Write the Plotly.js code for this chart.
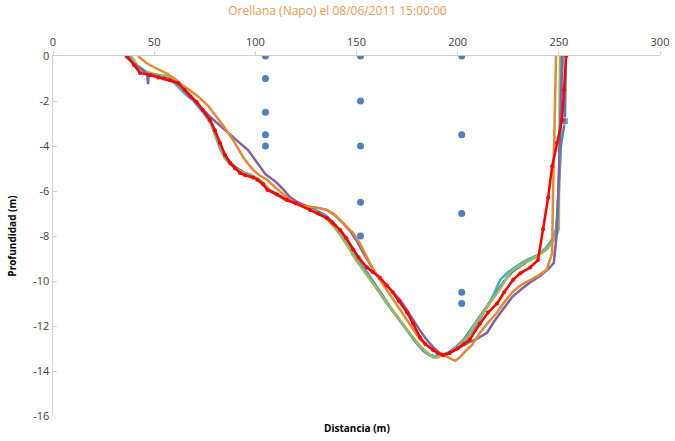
<!DOCTYPE html>
<html>
<head>
<meta charset="utf-8">
<script src="https://cdn.plot.ly/plotly-3.0.1.min.js"></script>
<style>html,body{margin:0;padding:0;background:#fff;}#chart{width:675px;height:441px;}</style>
</head>
<body>
<div id="chart"></div>
<script>
// ---- data ----
const titleText = "Orellana (Napo) el 08/06/2011 15:00:00";
const xTitle = "Distancia (m)";
const yTitle = "Profundidad (m)";

const xTicks = [0, 50, 100, 150, 200, 250, 300];
const yTicks = [0, -2, -4, -6, -8, -10, -12, -14, -16];

const blueX = [37.5,42,46,50,54,58,61,64,67,70,73,76,79,81.5,84,86.5,89,92,95,98,101,104,107,111,116,121,126,131,135,139,143,146,149,152,155,159,163,167,171,175,179,183,186,189,192,195,199,203,207,211,215,219,223,227,231,235,239,243,246,248.5,250,251,253,253.5];
const blueY = [0,-0.45,-0.7,-0.85,-0.95,-1.0,-1.15,-1.45,-1.7,-1.95,-2.3,-2.7,-3.1,-3.7,-4.2,-4.6,-4.85,-5.05,-5.2,-5.3,-5.45,-5.65,-5.95,-6.15,-6.4,-6.55,-6.7,-6.9,-7.1,-7.45,-7.9,-8.35,-8.8,-9.2,-9.6,-10.1,-10.65,-11.2,-11.7,-12.2,-12.7,-13.1,-13.3,-13.35,-13.3,-13.2,-12.95,-12.6,-12.1,-11.6,-11.05,-10.5,-10.0,-9.6,-9.35,-9.1,-8.9,-8.6,-8.3,-7.9,-6.0,-4.0,-2.9,0];

const tealX = [37,41,45,49,53,57,60,63,66,69,72,75,78,80.5,82.5,85,88,91,94,97,100,103,106,110,115,120,125,130,134,138,142,145,148.3,152,155,160,165,170,175,180,184.6,188,192,196,200,204,208,212,216,221,225,229,234,239.7,244,247,249,250,250.6,252];
const tealY = [0,-0.45,-0.7,-0.85,-0.95,-1.05,-1.2,-1.5,-1.75,-1.95,-2.25,-2.6,-3.0,-3.6,-4.1,-4.55,-4.85,-5.05,-5.2,-5.3,-5.4,-5.6,-5.9,-6.15,-6.4,-6.55,-6.7,-6.9,-7.1,-7.4,-7.9,-8.3,-8.76,-9.25,-9.64,-10.3,-11.0,-11.6,-12.2,-12.75,-13.2,-13.35,-13.3,-13.2,-12.95,-12.6,-12.15,-11.55,-10.95,-9.95,-9.6,-9.35,-9.07,-8.84,-8.5,-8.1,-7.6,-5.5,-3.7,0];

const greenX = [38.6,42,46,50,54,57,58.8,61,63,66,69,72,75,78,80.5,82.5,85,87.5,90,93,96,99,102,105,108,112,116,120,125,130,134,138,142,146,150,154,158,162,166,171.5,176,181.4,185,187.8,190,193,197,201,205,208,211,215,219,222,226,230,235.8,240,244,246.7,249,250,250.2,250.6];
const greenY = [0,-0.45,-0.7,-0.8,-0.85,-0.9,-0.98,-1.1,-1.35,-1.55,-1.85,-2.15,-2.55,-2.95,-3.5,-4.0,-4.5,-4.8,-5.0,-5.15,-5.25,-5.35,-5.5,-5.75,-6.05,-6.2,-6.4,-6.55,-6.75,-6.95,-7.15,-7.5,-7.95,-8.55,-9.1,-9.6,-10.1,-10.55,-11.05,-11.73,-12.3,-12.9,-13.2,-13.4,-13.4,-13.3,-13.15,-12.85,-12.45,-12.0,-11.6,-11.1,-10.6,-10.2,-9.6,-9.35,-9.07,-8.85,-8.6,-8.3,-7.95,-7.7,-4.0,0];

const purpleX = [35.6,40,44,46.5,47,47.3,50,54,58,61,64,68,72,77.6,82,86,89,92.4,96.4,99,102,105,108,110.7,114,117,121,126,131,135.5,139,143,147,150,153,156,159,162,165,168,171.5,175,178,181,184.6,188,191,193.8,197,201,205,209,214.5,218,222,227,231,236,241,245,247.5,249,250,250.6,251.6];
const purpleY = [0,-0.35,-0.6,-0.8,-1.25,-0.8,-0.85,-0.95,-1.05,-1.15,-1.4,-1.8,-2.2,-2.7,-3.05,-3.4,-3.6,-3.87,-4.18,-4.5,-4.9,-5.25,-5.45,-5.64,-5.95,-6.27,-6.5,-6.7,-6.75,-6.85,-7.05,-7.4,-7.8,-8.2,-8.7,-9.15,-9.6,-9.95,-10.2,-10.5,-10.84,-11.3,-11.73,-12.15,-12.6,-12.95,-13.2,-13.3,-13.15,-12.95,-12.75,-12.6,-12.3,-11.8,-11.3,-10.7,-10.4,-10.05,-9.75,-9.45,-9.2,-7.9,-5.5,-3.7,0];

const orangeX = [42,46,50,56,60,64,68,72.7,77,81,85,89,92,94,96.5,99,102,105.8,110,115.7,118.6,123,127,131,135.4,138.5,142,145,148.3,151.5,155,158,161.6,165,168,171.5,175,178,181.4,184.6,187.8,191,195,198.7,201,204,207,211,215,219.5,223,227,231,235.8,240,244,246.7,247,247.6,248.6];
const orangeY = [0,-0.3,-0.5,-0.77,-1.0,-1.3,-1.55,-1.87,-2.25,-2.7,-3.2,-3.73,-4.2,-4.5,-4.8,-5.07,-5.3,-5.5,-5.85,-6.27,-6.5,-6.65,-6.7,-6.75,-6.84,-7.0,-7.3,-7.55,-7.87,-8.3,-8.93,-9.45,-9.95,-10.4,-10.84,-11.3,-11.73,-12.15,-12.6,-12.85,-13.07,-13.2,-13.4,-13.55,-13.4,-13.1,-12.85,-12.3,-11.85,-11.4,-10.95,-10.5,-10.2,-9.95,-9.75,-9.5,-8.76,-6.7,-3.7,0];

const redX = [36.6,40,43,48,52,55,57.8,61.8,65,68,71,74,77.6,80,82.5,85,87.5,90,92.4,95,98.9,101,103.8,106,110.7,115.7,120,127,131,135.4,138,141.9,145,148.3,151,155.2,158,161.6,165,168,171,175,178,181.4,184,187.8,190,192.8,196,200,203,206,211,215,219.5,223,227.4,231,235.8,239.7,242.2,244.7,246.7,249,251.6,252.6,253.6];
const redY = [0,-0.4,-0.75,-0.85,-0.95,-1.0,-1.07,-1.2,-1.5,-1.8,-2.04,-2.4,-2.84,-3.3,-3.87,-4.4,-4.75,-5.0,-5.2,-5.3,-5.4,-5.5,-5.7,-5.95,-6.15,-6.4,-6.55,-6.84,-7.0,-7.2,-7.4,-7.73,-8.1,-8.6,-8.95,-9.4,-9.6,-9.85,-10.2,-10.5,-10.9,-11.4,-11.9,-12.5,-12.8,-13.07,-13.2,-13.3,-13.2,-13.0,-12.8,-12.6,-11.9,-11.4,-11.0,-10.5,-9.95,-9.65,-9.4,-9.07,-7.7,-6.3,-4.9,-3.87,-2.84,-1.5,0];

const pointsX = [105,105,105,105,105,152,152,152,152,152,202,202,202,202,202];
const pointsY = [0,-1,-2.5,-3.5,-4,0,-2,-4,-6.5,-8,0,-3.5,-7,-10.5,-11];

// ---- chart ----
function line(x, y, color, extra) {
  return Object.assign({x: x, y: y, type: 'scatter', mode: 'lines',
    line: {color: color, width: 2.5}, hoverinfo: 'skip', showlegend: false}, extra || {});
}

const traces = [
  line(blueX, blueY, '#4F81BD', {mode: 'lines+markers', marker: {size: 0, symbol: 'square', color: '#4F81BD'}}),
  line(tealX, tealY, '#4BACC6'),
  line(greenX, greenY, '#9BBB59'),
  line(purpleX, purpleY, '#8064A2'),
  line(orangeX, orangeY, '#E58A33'),
  line(redX, redY, '#FF0000', {mode: 'lines+markers', marker: {size: 4, color: '#FF0000'}}),
  {x: pointsX, y: pointsY, type: 'scatter', mode: 'markers',
   marker: {color: '#4F81BD', size: 7}, hoverinfo: 'skip', showlegend: false}
];
// square marker only at the crossing near the surface on the blue line
traces[0].marker.size = blueX.map((v, i) => (blueY[i] === -2.9 ? 7 : 0));

const font = {family: 'Open Sans, Liberation Sans, sans-serif', size: 11, color: '#404040'};

const layout = {
  width: 675, height: 441,
  paper_bgcolor: '#ffffff', plot_bgcolor: '#ffffff',
  margin: {l: 53, r: 15, t: 56, b: 25},
  font: font,
  title: {text: titleText, x: 0.5, xanchor: 'center', y: 0.975, yanchor: 'middle',
          font: {family: 'Open Sans, Liberation Sans, sans-serif', size: 12, color: '#F09A4E'}},
  xaxis: {side: 'top', range: [0, 300], tickvals: xTicks, ticktext: xTicks.map(String),
          showgrid: false, zeroline: false, showline: true, linecolor: '#D0D0D0', linewidth: 1.5,
          ticks: 'outside', ticklen: 4, tickcolor: '#D0D0D0', tickfont: font, fixedrange: true},
  yaxis: {range: [-16, 0], tickvals: yTicks, ticktext: yTicks.map(String),
          showgrid: false, zeroline: false, showline: true, linecolor: '#D0D0D0', linewidth: 1.5,
          ticks: 'inside', ticklen: 4, tickcolor: '#D0D0D0', tickfont: font, fixedrange: true,
          title: {text: yTitle, standoff: 14,
                  font: {family: 'Open Sans, Liberation Sans, sans-serif', size: 10, color: '#000000', weight: 'bold'}}},
  annotations: [
    {text: '<b>' + xTitle + '</b>', xref: 'paper', yref: 'paper', x: 0.5, y: 0, yshift: -12,
     xanchor: 'center', yanchor: 'middle', showarrow: false,
     font: {family: 'Open Sans, Liberation Sans, sans-serif', size: 10, color: '#000000'}}
  ]
};

Plotly.newPlot('chart', traces, layout, {displayModeBar: false, staticPlot: true});
</script>
</body>
</html>
